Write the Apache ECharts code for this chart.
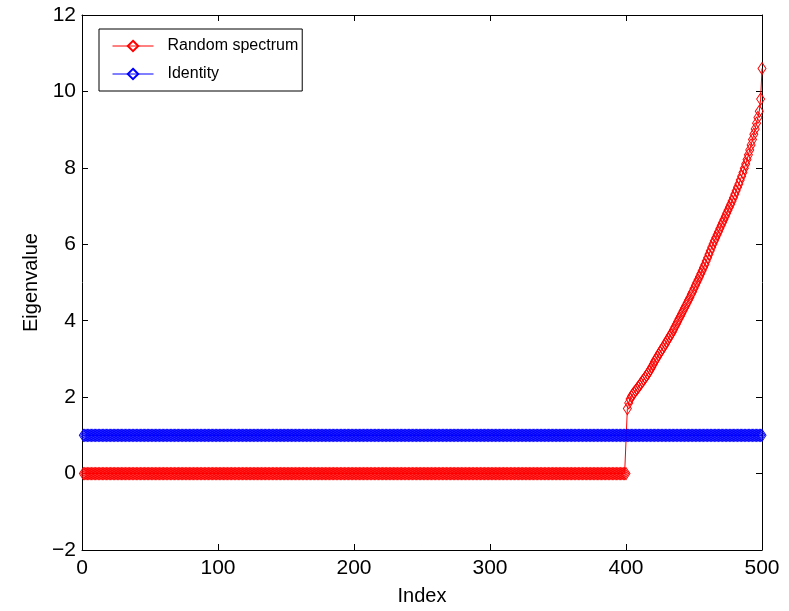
<!DOCTYPE html>
<html>
<head>
<meta charset="utf-8">
<script src="https://cdn.jsdelivr.net/npm/echarts@6/dist/echarts.min.js"></script>
<style>
  html, body { margin: 0; padding: 0; background: #fff; }
  #chart { width: 789px; height: 611px; }
</style>
</head>
<body>
<div id="chart"></div>
<script>
// eigenvalue index runs 1..500
const nPoints = 500
const nZeros = 400
// top 100 eigenvalues of the random spectrum (index 401..500)
const randomTail = [
  1.70, 1.85, 1.95, 2.02, 2.07, 2.12, 2.17, 2.21, 2.26, 2.31,
  2.36, 2.41, 2.46, 2.51, 2.56, 2.61, 2.67, 2.73, 2.79, 2.86,
  2.93, 2.99, 3.05, 3.11, 3.17, 3.23, 3.28, 3.34, 3.40, 3.46,
  3.52, 3.58, 3.64, 3.70, 3.77, 3.84, 3.91, 3.98, 4.05, 4.12,
  4.19, 4.26, 4.33, 4.40, 4.47, 4.54, 4.61, 4.69, 4.76, 4.84,
  4.92, 5.00, 5.07, 5.15, 5.23, 5.31, 5.39, 5.47, 5.56, 5.65,
  5.74, 5.83, 5.92, 6.01, 6.09, 6.17, 6.25, 6.33, 6.41, 6.49,
  6.57, 6.65, 6.73, 6.81, 6.89, 6.97, 7.05, 7.13, 7.22, 7.31,
  7.40, 7.49, 7.58, 7.68, 7.78, 7.88, 7.99, 8.10, 8.22, 8.34,
  8.47, 8.60, 8.74, 8.88, 9.02, 9.17, 9.32, 9.48, 9.80, 10.60
]
// first 400 eigenvalues are all zero, identity is all ones
const randomValues = new Array(nZeros).fill(0).concat(randomTail)
const identityValues = new Array(nPoints).fill(1)

const xTicks = { min: 0, max: 500, interval: 100 }
const yTicks = { min: -2, max: 12, interval: 2 }

const toPairs = arr => arr.map((v, i) => [i + 1, v])

const font = 'Liberation Sans, Arial, Helvetica, sans-serif'
const minus = v => String(v).replace('-', '\u2212')

const chart = echarts.init(document.getElementById('chart'))

const markerSeries = (name, color, values) => ({
  name,
  type: 'line',
  data: toPairs(values),
  symbol: 'diamond',
  symbolSize: [8, 12],
  showSymbol: true,
  showAllSymbol: true,
  itemStyle: { color: 'transparent', borderColor: color, borderWidth: 1 },
  lineStyle: { color, width: 1 },
  emphasis: { disabled: true },
  animation: false
})

// box-style axis: ticks inside, no labels on top/right
const boxAxisLine = { show: true, onZero: false, lineStyle: { color: '#000', width: 1 } }
const boxTick = { show: true, inside: true, length: 6, lineStyle: { color: '#000' } }

chart.setOption({
  backgroundColor: '#fff',
  animation: false,
  grid: { left: 82, right: 27, top: 15, bottom: 61, show: false, outerBoundsMode: 'none', containLabel: false },
  legend: {
    orient: 'vertical',
    left: 99,
    top: 29,
    padding: [9, 4, 9, 13],
    itemWidth: 41,
    itemHeight: 13,
    itemGap: 12,
    backgroundColor: '#fff',
    borderColor: '#000',
    borderWidth: 1,
    borderRadius: 0,
    lineStyle: { width: 1 },
    textStyle: { fontFamily: font, fontSize: 16, color: '#000', padding: [0, 0, 0, 9] },
    data: ['Random spectrum', 'Identity']
  },
  xAxis: [{
    type: 'value',
    ...xTicks,
    name: 'Index',
    nameLocation: 'middle',
    nameGap: 36,
    nameTextStyle: { fontFamily: font, fontSize: 20, color: '#000' },
    axisLine: boxAxisLine,
    axisTick: boxTick,
    axisLabel: { fontFamily: font, fontSize: 21, color: '#000', margin: 8 },
    splitLine: { show: false }
  }, {
    type: 'value',
    ...xTicks,
    position: 'top',
    axisLine: boxAxisLine,
    axisTick: boxTick,
    axisLabel: { show: false },
    splitLine: { show: false }
  }],
  yAxis: [{
    type: 'value',
    ...yTicks,
    name: 'Eigenvalue',
    nameLocation: 'middle',
    nameGap: 41,
    nameTextStyle: { fontFamily: font, fontSize: 20, color: '#000' },
    axisLine: boxAxisLine,
    axisTick: boxTick,
    axisLabel: { fontFamily: font, fontSize: 21, color: '#000', margin: 6, formatter: minus },
    splitLine: { show: false }
  }, {
    type: 'value',
    ...yTicks,
    position: 'right',
    axisLine: boxAxisLine,
    axisTick: boxTick,
    axisLabel: { show: false },
    splitLine: { show: false }
  }],
  series: [
    markerSeries('Random spectrum', '#ff0000', randomValues),
    markerSeries('Identity', '#0000ff', identityValues)
  ]
})
</script>
</body>
</html>
